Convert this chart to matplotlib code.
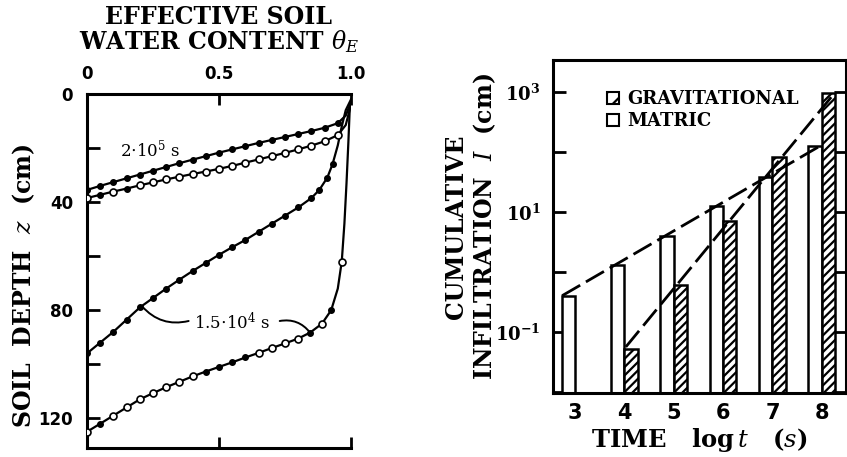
import numpy as np
import matplotlib
matplotlib.use("Agg")
import matplotlib.pyplot as plt
from matplotlib.patches import Patch

# --- left panel: effective water content profiles, theta_E vs depth z (cm) ---
# marks: f = filled dot, o = open circle, - = no marker
theta_a = [0, .05, .10, .15, .20, .25, .30, .35, .40, .45, .50, .55, .60, .65, .70, .75, .80, .85, .90, .95, .98, 1.0]
z_a = [35.5, 34.0, 32.6, 31.2, 29.8, 28.4, 27.0, 25.6, 24.3, 23.0, 21.7, 20.5, 19.3, 18.1, 17.0, 15.9, 14.8, 13.7, 12.5, 10.8, 8.0, 3.0]
marks_a = "ffffffffffffffffffff--"

theta_b = [0, .05, .10, .15, .20, .25, .30, .35, .40, .45, .50, .55, .60, .65, .70, .75, .80, .85, .90, .95, .98, 1.0]
z_b = [38.5, 37.3, 36.1, 35.0, 33.8, 32.7, 31.6, 30.6, 29.6, 28.7, 27.7, 26.6, 25.4, 24.2, 23.0, 21.8, 20.5, 19.1, 17.5, 15.2, 11.5, 4.0]
marks_b = "ofofoooooooooooooooo--"

theta_c = [0, .05, .10, .15, .20, .25, .30, .35, .40, .45, .50, .55, .60, .65, .70, .75, .80, .85, .88, .91, .93, .95, .965, .98, 1.0]
z_c = [96, 92, 88, 83.5, 79, 75.5, 72, 68.7, 65.5, 62.5, 59.5, 56.7, 54, 51, 48, 45, 42, 38.5, 35.5, 31, 26, 19, 12, 6, 2]
marks_c = "fffffffffffffffffffff----"

theta_d = [0, .05, .10, .15, .20, .25, .30, .35, .40, .45, .50, .55, .60, .65, .70, .75, .80, .845, .89, .925, .95, .965, .975, .983, .99, .995]
z_d = [125, 122, 119, 116, 113, 110.7, 108.5, 106.5, 104.5, 102.7, 101, 99.3, 97.5, 95.8, 94, 92.3, 90.5, 88.3, 85, 80, 72, 62, 48, 33, 18, 6]
marks_d = "ofoooooooffffoooofof-o----"

# --- right panel: cumulative infiltration by component ---
log_t = [3, 4, 5, 6, 7, 8]
matric_I = [0.40, 1.3, 4.0, 12.5, 38, 126]
grav_I = [np.nan, 0.052, 0.60, 7.0, 83, 950]

# dashed envelope lines (t^1/2 and t)
matric_fit_t = [2.74, 8.0]
matric_fit_I = [0.40, 130]
grav_fit_t = [4.03, 8.28]
grav_fit_I = [0.056, 1000]

plt.rcParams['font.family'] = 'DejaVu Serif'
plt.rcParams['mathtext.fontset'] = 'dejavuserif'
plt.rcParams['hatch.linewidth'] = 1.6

fig = plt.figure(figsize=(8.47, 4.57), dpi=100)
ax1 = fig.add_axes([0.1027, 0.0197, 0.3117, 0.7746])
ax2 = fig.add_axes([0.6529, 0.140, 0.3459, 0.7287])


def profile(ax, th, z, marks):
    th = np.array(th)
    z = np.array(z)
    m = np.array(list(marks))
    ax.plot(th, z, '-', color='k', lw=1.6, zorder=2)
    ax.plot(th[m == 'f'], z[m == 'f'], 'o', ms=4, mfc='k', mec='k', zorder=3)
    ax.plot(th[m == 'o'], z[m == 'o'], 'o', ms=5, mfc='white', mec='k', mew=1.2, zorder=3)


profile(ax1, theta_a, z_a, marks_a)
profile(ax1, theta_b, z_b, marks_b)
profile(ax1, theta_c, z_c, marks_c)
profile(ax1, theta_d, z_d, marks_d)

ax1.set_xlim(0, 1.0)
ax1.set_ylim(131, 0)
ax1.spines['right'].set_visible(False)
for s in ['top', 'bottom', 'left']:
    ax1.spines[s].set_linewidth(2.2)

ax1.set_xticks([0, 0.5, 1.0])
ax1.set_xticklabels(['0', '0.5', '1.0'], fontfamily='DejaVu Sans', fontweight='bold', fontsize=12)
ax1.tick_params(axis='x', top=True, bottom=True, labeltop=True, labelbottom=False,
                direction='in', length=8, width=2, pad=8)
ax1.set_yticks([0, 40, 80, 120])
ax1.set_yticks([20, 60, 100], minor=True)
ax1.set_yticklabels(['0', '40', '80', '120'], fontfamily='DejaVu Sans', fontweight='bold', fontsize=12)
ax1.tick_params(axis='y', which='both', direction='in', length=9, width=2, pad=10)

ax1.text(0.5, 1.2175, "EFFECTIVE SOIL", transform=ax1.transAxes, ha='center', va='center',
         fontsize=17, fontweight='bold')
ax1.text(0.5, 1.147, r"WATER CONTENT $\theta_E$", transform=ax1.transAxes, ha='center', va='center',
         fontsize=17, fontweight='bold')
ax1.set_ylabel(r"SOIL  DEPTH  $z$  (cm)", fontsize=17, fontweight='bold')
ax1.yaxis.set_label_coords(-0.19, 0.46)

ax1.text(0.24, 20.7, r"2$\cdot$10$^5$ s", ha='center', va='center', fontsize=12)
ax1.text(0.55, 84.5, r"1.5$\cdot$10$^4$ s", ha='center', va='center', fontsize=12)
ax1.annotate('', xy=(0.208, 78.5), xytext=(0.385, 84),
             arrowprops=dict(arrowstyle='-', lw=1.4, shrinkA=0, shrinkB=0,
                             connectionstyle='arc3,rad=-0.3'))
ax1.annotate('', xy=(0.845, 88.3), xytext=(0.73, 84),
             arrowprops=dict(arrowstyle='-', lw=1.4, shrinkA=0, shrinkB=0,
                             connectionstyle='arc3,rad=-0.3'))

# bars
t = np.array(log_t, dtype=float)
w = 0.27
ax2.bar(t - w / 2, matric_I, width=w, log=True, facecolor='white', edgecolor='k', lw=1.8, zorder=2)
ax2.bar(t + w / 2, grav_I, width=w, log=True, facecolor='white', edgecolor='k', lw=1.8,
        hatch='////', zorder=2)
ax2.plot(matric_fit_t, matric_fit_I, color='k', lw=2, dashes=(7.5, 2.4), zorder=3)
ax2.plot(grav_fit_t, grav_fit_I, color='k', lw=2, dashes=(7.5, 2.4), zorder=3)

ax2.set_xlim(2.555, 8.49)
ax2.set_ylim(10 ** -2.02, 10 ** 3.53)
for s in ax2.spines.values():
    s.set_linewidth(2.2)
ax2.set_xticks(t)
ax2.set_xticklabels([str(v) for v in log_t], fontfamily='DejaVu Sans', fontweight='bold', fontsize=15)
ax2.tick_params(axis='x', length=0, pad=7)
ax2.set_yticks([1e-2, 1e-1, 1, 10, 100, 1000])
ax2.set_yticklabels(['', r'$\mathbf{10^{-1}}$', '', r'$\mathbf{10^{1}}$', '', r'$\mathbf{10^{3}}$'],
                    fontsize=13)
ax2.yaxis.set_minor_locator(matplotlib.ticker.NullLocator())
ax2.tick_params(axis='y', which='major', direction='in', left=True, right=True,
                length=9, width=2, pad=9)

ax2.set_xlabel(r"TIME   log$\,t$   ($s$)", fontsize=17.5, fontweight='bold', labelpad=2)
ax2.set_ylabel("CUMULATIVE\n" + r"INFILTRATION  $I$  (cm)", fontsize=17, fontweight='bold',
               linespacing=1.15)
ax2.yaxis.set_label_coords(-0.188, 0.5)

# legend swatches: a single diagonal stroke in the hatched one
handles = [Patch(facecolor='white', edgecolor='k', hatch='//', lw=1.5, label='GRAVITATIONAL'),
           Patch(facecolor='white', edgecolor='k', lw=1.5, label='MATRIC')]
ax2.legend(handles=handles, loc='upper left', bbox_to_anchor=(0.184, 0.91), frameon=False,
           borderpad=0, borderaxespad=0, handlelength=0.65, handleheight=0.65,
           handletextpad=0.5, labelspacing=0.25,
           prop=dict(family='DejaVu Serif', weight='bold', size=13))

fig.savefig("out.png", dpi=100)
